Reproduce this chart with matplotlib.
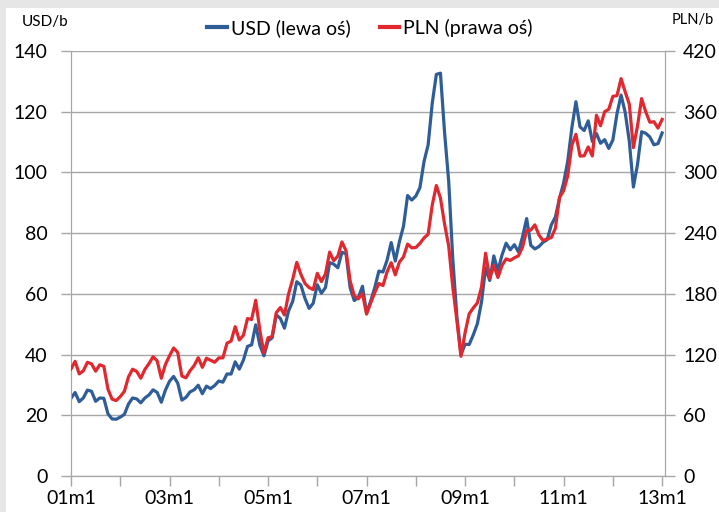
import numpy as np
import matplotlib.pyplot as plt
from matplotlib.lines import Line2D
from matplotlib.patches import Rectangle

plt.rcParams['font.family'] = ['Lato', 'DejaVu Sans']

# monthly values, 2001m1 .. 2013m1
usd = [
    25.6, 27.5, 24.5, 25.7, 28.3, 27.9, 24.6, 25.7, 25.6, 20.5, 18.8, 18.7,
    19.4, 20.3, 23.7, 25.7, 25.4, 24.1, 25.7, 26.7, 28.4, 27.5, 24.3, 28.3,
    31.2, 32.8, 30.6, 25.0, 25.9, 27.7, 28.4, 29.9, 27.1, 29.6, 28.8, 29.8,
    31.3, 30.9, 33.6, 33.6, 37.6, 35.2, 38.2, 42.7, 43.2, 49.8, 43.1, 39.6,
    44.5, 45.5, 53.1, 51.9, 48.7, 54.4, 57.5, 64.0, 62.9, 58.5, 55.2, 56.9,
    63.0, 60.2, 62.1, 70.3, 69.8, 68.6, 73.7, 73.2, 62.0, 57.8, 58.8, 62.5,
    53.7, 57.6, 62.1, 67.5, 67.2, 71.1, 76.9, 70.8, 77.2, 82.3, 92.4, 90.9,
    92.2, 95.0, 103.6, 109.1, 122.8, 132.3, 132.7, 113.2, 97.2, 71.6, 52.5, 40.0,
    43.4, 43.3, 46.5, 50.2, 57.3, 68.6, 64.4, 72.5, 67.7, 72.8, 76.7, 74.5,
    76.2, 73.8, 78.8, 84.8, 76.0, 74.8, 75.6, 77.0, 77.8, 82.7, 85.3, 91.5,
    96.5, 103.7, 114.6, 123.3, 115.0, 113.8, 117.0, 110.2, 112.8, 109.6, 110.8, 107.9,
    110.7, 119.3, 125.5, 119.8, 110.3, 95.2, 102.6, 113.4, 112.9, 111.7, 109.1, 109.5,
    113.0,
]
pln = [
    105.8, 113.3, 100.9, 103.9, 112.4, 110.8, 103.6, 109.9, 108.4, 85.9, 76.0, 74.5,
    78.5, 83.6, 97.9, 105.5, 103.4, 96.6, 105.3, 111.1, 117.9, 113.7, 96.6, 110.2,
    118.8, 126.5, 122.1, 98.8, 97.0, 104.0, 109.1, 116.9, 107.4, 116.4, 114.4, 112.4,
    116.7, 116.7, 131.2, 133.4, 147.6, 134.4, 139.1, 155.6, 154.7, 173.7, 144.0, 121.6,
    136.6, 137.8, 161.4, 166.5, 159.1, 179.9, 194.4, 211.1, 199.4, 190.3, 186.2, 184.2,
    200.3, 192.1, 199.8, 221.3, 212.8, 217.3, 231.3, 222.6, 192.7, 178.1, 175.1, 180.5,
    160.0, 171.0, 181.2, 190.3, 188.2, 201.8, 210.8, 198.8, 211.4, 216.6, 229.2, 225.5,
    225.8, 229.9, 235.3, 238.9, 267.7, 287.1, 274.7, 249.1, 227.5, 186.8, 153.7, 118.3,
    141.6, 160.3, 166.1, 171.1, 186.8, 220.2, 195.3, 208.1, 196.2, 208.1, 214.6, 213.0,
    215.6, 217.6, 226.2, 242.6, 243.0, 248.2, 238.1, 232.7, 234.3, 235.6, 244.8, 275.3,
    281.8, 296.6, 326.7, 337.7, 316.2, 316.4, 325.2, 316.3, 356.5, 346.2, 360.0, 362.4,
    375.2, 375.9, 392.7, 379.6, 367.4, 324.5, 345.8, 373.0, 360.0, 349.6, 350.1, 343.8,
    352.4,
]
year_labels = ['01m1', '03m1', '05m1', '07m1', '09m1', '11m1', '13m1']

blue = '#2f5d98'
red = '#e0282e'
grid = '#a6a6a6'

fig = plt.figure(figsize=(7.19, 5.12), dpi=100)
fig.patch.set_facecolor('#e6e6e6')
fig.patches.append(Rectangle((6 / 719, 0), 1, 1 - 8 / 512, transform=fig.transFigure,
                             facecolor='white', edgecolor='none', zorder=-1))

ax = fig.add_axes([71 / 719, 36 / 512, 594 / 719, 425 / 512])
ax.set_facecolor('white')
ax2 = ax.twinx()

x = np.arange(len(usd))
ax.plot(x, usd, color=blue, lw=2.3, zorder=3)
ax2.plot(x, pln, color=red, lw=2.3, zorder=3)

ax.set_xlim(0, 144.7)
ax.set_ylim(0, 140)
ax2.set_ylim(0, 420)
ax.set_yticks(range(0, 141, 20))
ax2.set_yticks(range(0, 421, 60))
ax.set_xticks(range(0, 145, 12), minor=True)
ax.set_xticks(range(0, 145, 24))
ax.set_xticklabels(year_labels)
ax.grid(axis='y', color=grid, lw=1)
ax.set_axisbelow(True)

for a in (ax, ax2):
    for s in a.spines.values():
        s.set_color(grid)
    a.spines['top'].set_visible(False)
    a.tick_params(which='both', colors=grid, labelcolor='black', labelsize=14, length=7, width=1)
ax.tick_params(axis='x', which='both', pad=3)
ax.tick_params(axis='y', pad=10)
ax2.tick_params(axis='y', pad=6)

fig.text(22 / 719, 1 - 22 / 512, 'USD/b', fontsize=11, ha='left', va='center')
fig.text(714 / 719, 1 - 20 / 512, 'PLN/b', fontsize=10.5, ha='right', va='center')

handles = [Line2D([], [], color=blue, lw=3), Line2D([], [], color=red, lw=3)]
fig.legend(handles, ['USD (lewa oś)', 'PLN (prawa oś)'], loc='center',
           bbox_to_anchor=(370 / 719, 1 - 28 / 512), ncol=2, frameon=False,
           fontsize=14, handlelength=1.0, handletextpad=0.2, columnspacing=1.5)

fig.savefig('out.png', dpi=100, facecolor=fig.get_facecolor())
